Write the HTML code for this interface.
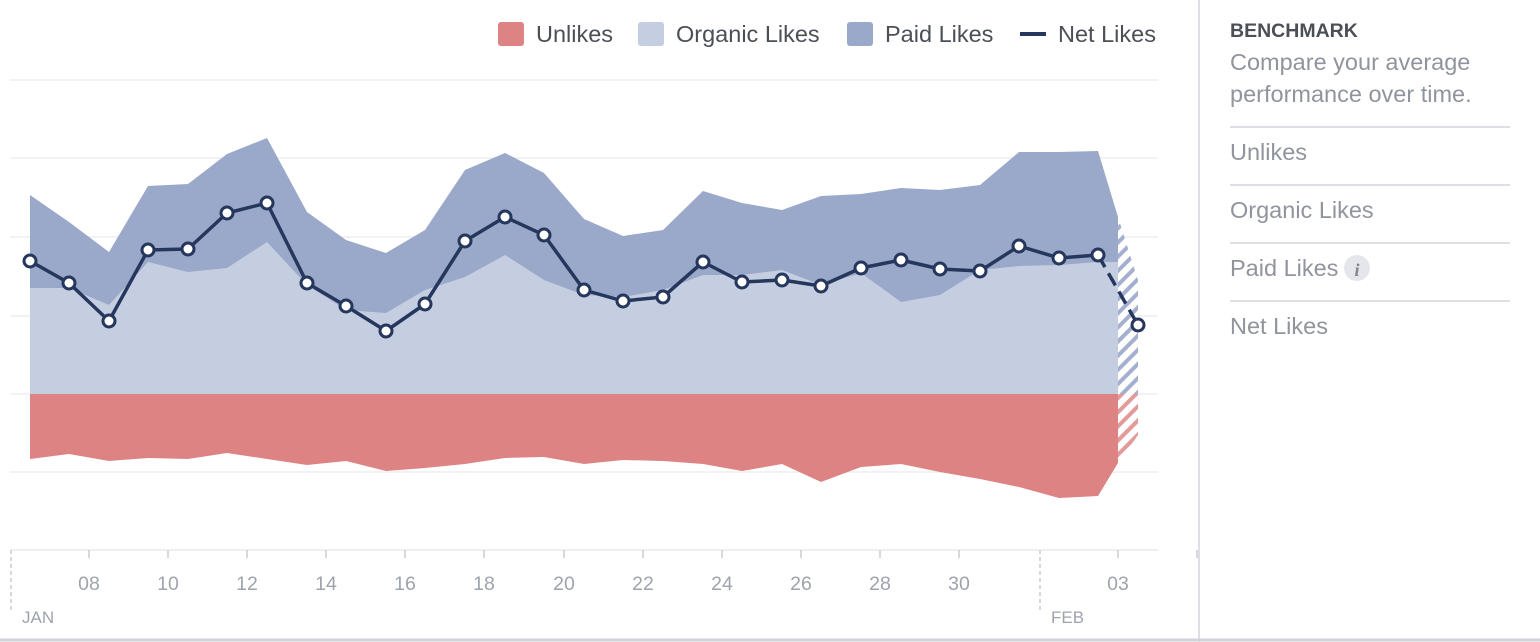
<!DOCTYPE html>
<html><head><meta charset="utf-8"><style>
body{margin:0;width:1540px;height:642px;background:#fff;overflow:hidden;font-family:"Liberation Sans",Helvetica,Arial,sans-serif;}
svg{position:absolute;left:0;top:0}
</style></head><body>
<svg width="1540" height="642" viewBox="0 0 1540 642" xmlns="http://www.w3.org/2000/svg">
<defs>
<pattern id="hb" patternUnits="userSpaceOnUse" width="10" height="10" patternTransform="rotate(-45)">
<rect width="10" height="10" fill="#fff"/><rect width="10" height="4" fill="#a4b0cd"/></pattern>
<pattern id="hr" patternUnits="userSpaceOnUse" width="10" height="10" patternTransform="rotate(-45)">
<rect width="10" height="10" fill="#fff"/><rect width="10" height="4" fill="#e39a9a"/></pattern>
</defs>
<g stroke="#ededed" stroke-width="1.5">
<line x1="10" y1="80" x2="1158" y2="80"/><line x1="10" y1="158" x2="1158" y2="158"/>
<line x1="10" y1="237" x2="1158" y2="237"/><line x1="10" y1="316" x2="1158" y2="316"/>
<line x1="10" y1="394" x2="1158" y2="394"/><line x1="10" y1="472" x2="1158" y2="472"/>
</g>
<polygon fill="#9aa9c9" points="30,195 69,222 109,252 148,186 188,184 227,154 267,138 307,212 346,240 386,253 425,230 465,170 505,153 544,173 584,219 623,236 663,230 703,191 742,203 782,210 821,196 861,194 901,188 940,190 980,185 1019,152 1059,152 1098,151 1118,217 1118,394 30,394"/>
<polygon fill="#c5cee1" points="30,288 69,288 109,305 148,262 188,272 227,268 267,242 307,285 346,310 386,313 425,290 465,277 505,255 544,280 584,295 623,297 663,290 703,275 742,275 782,270 821,285 861,273 901,302 940,295 980,270 1019,266 1059,265 1098,262 1118,262 1118,394 30,394"/>
<polygon fill="#de8383" points="30,394 1118,394 1118,463 1098,496 1059,498 1019,487 980,479 940,472 901,464 861,467 821,482 782,464 742,471 703,464 663,461 623,460 584,464 544,457 505,458 465,464 425,468 386,471 346,461 307,465 267,459 227,453 188,459 148,458 109,461 69,454 30,459"/>
<polygon fill="url(#hb)" points="1118,217 1138,280 1138,394 1118,394"/>
<polygon fill="url(#hr)" points="1118,394 1138,394 1138,435 1118,463"/>
<line x1="10" y1="550" x2="1158" y2="550" stroke="#e9eaed" stroke-width="1.5"/>
<g stroke="#c9ccd1" stroke-width="1.5">
<line x1="89" y1="550" x2="89" y2="558"/><line x1="168" y1="550" x2="168" y2="558"/><line x1="247" y1="550" x2="247" y2="558"/><line x1="326" y1="550" x2="326" y2="558"/><line x1="405" y1="550" x2="405" y2="558"/><line x1="484" y1="550" x2="484" y2="558"/><line x1="564" y1="550" x2="564" y2="558"/><line x1="643" y1="550" x2="643" y2="558"/><line x1="722" y1="550" x2="722" y2="558"/><line x1="801" y1="550" x2="801" y2="558"/><line x1="880" y1="550" x2="880" y2="558"/><line x1="959" y1="550" x2="959" y2="558"/><line x1="1118" y1="550" x2="1118" y2="558"/><line x1="1197" y1="550" x2="1197" y2="558"/>
<line x1="11" y1="550" x2="11" y2="610" stroke-dasharray="4,3"/>
<line x1="1040" y1="550" x2="1040" y2="610" stroke-dasharray="4,3"/>
</g>
<g fill="#9ea3ad" font-size="19.5" text-anchor="middle">
<text x="89" y="590">08</text><text x="168" y="590">10</text><text x="247" y="590">12</text><text x="326" y="590">14</text><text x="405" y="590">16</text><text x="484" y="590">18</text><text x="564" y="590">20</text><text x="643" y="590">22</text><text x="722" y="590">24</text><text x="801" y="590">26</text><text x="880" y="590">28</text><text x="959" y="590">30</text><text x="1118" y="590">03</text>
</g>
<g fill="#9ea3ad" font-size="17"><text x="22" y="623">JAN</text><text x="1051" y="623">FEB</text></g>
<polyline fill="none" stroke="#26375e" stroke-width="3.5" stroke-linejoin="round" points="30,261 69,283 109,321 148,250 188,249 227,213 267,203 307,283 346,306 386,331 425,304 465,241 505,217 544,235 584,290 623,301 663,297 703,262 742,282 782,280 821,286 861,268 901,260 940,269 980,271 1019,246 1059,258 1098,255"/>
<line x1="1098" y1="255" x2="1138" y2="325" stroke="#26375e" stroke-width="3.5" stroke-dasharray="14,7"/>
<g fill="#fff" stroke="#26375e" stroke-width="3">
<circle cx="30" cy="261" r="6"/><circle cx="69" cy="283" r="6"/><circle cx="109" cy="321" r="6"/><circle cx="148" cy="250" r="6"/><circle cx="188" cy="249" r="6"/><circle cx="227" cy="213" r="6"/><circle cx="267" cy="203" r="6"/><circle cx="307" cy="283" r="6"/><circle cx="346" cy="306" r="6"/><circle cx="386" cy="331" r="6"/><circle cx="425" cy="304" r="6"/><circle cx="465" cy="241" r="6"/><circle cx="505" cy="217" r="6"/><circle cx="544" cy="235" r="6"/><circle cx="584" cy="290" r="6"/><circle cx="623" cy="301" r="6"/><circle cx="663" cy="297" r="6"/><circle cx="703" cy="262" r="6"/><circle cx="742" cy="282" r="6"/><circle cx="782" cy="280" r="6"/><circle cx="821" cy="286" r="6"/><circle cx="861" cy="268" r="6"/><circle cx="901" cy="260" r="6"/><circle cx="940" cy="269" r="6"/><circle cx="980" cy="271" r="6"/><circle cx="1019" cy="246" r="6"/><circle cx="1059" cy="258" r="6"/><circle cx="1098" cy="255" r="6"/><circle cx="1138" cy="325" r="6"/>
</g>
<g font-size="23.5" fill="#4b4f56">
<rect x="498" y="22" width="26" height="24" rx="3" fill="#de8383"/><text x="536" y="42">Unlikes</text>
<rect x="638" y="22" width="26" height="24" rx="3" fill="#c5cee1"/><text x="676" y="42">Organic Likes</text>
<rect x="847" y="22" width="26" height="24" rx="3" fill="#9aa9c9"/><text x="885" y="42">Paid Likes</text>
<line x1="1020" y1="34" x2="1046" y2="34" stroke="#26375e" stroke-width="4"/><text x="1058" y="42">Net Likes</text>
</g>
<line x1="1199" y1="0" x2="1199" y2="642" stroke="#dddfe2" stroke-width="2"/>
<line x1="0" y1="640" x2="1540" y2="640" stroke="#cfd2d8" stroke-width="3"/>
<text x="1230" y="37" font-size="19.5" font-weight="bold" fill="#4b4f56">BENCHMARK</text>
<g font-size="23.5" fill="#90949c">
<text x="1230" y="70">Compare your average</text>
<text x="1230" y="102">performance over time.</text>
<text x="1230" y="160">Unlikes</text>
<text x="1230" y="218">Organic Likes</text>
<text x="1230" y="276">Paid Likes</text>
<text x="1230" y="334">Net Likes</text>
</g>
<g stroke="#dddfe2" stroke-width="2">
<line x1="1230" y1="127" x2="1510" y2="127"/><line x1="1230" y1="185" x2="1510" y2="185"/><line x1="1230" y1="243" x2="1510" y2="243"/><line x1="1230" y1="301" x2="1510" y2="301"/>
</g>
<circle cx="1357" cy="268" r="13" fill="#e4e6eb"/>
<text x="1357" y="276" font-size="18" font-style="italic" font-weight="bold" fill="#7f838b" text-anchor="middle" font-family="Liberation Serif,serif">i</text>
</svg>
</body></html>
